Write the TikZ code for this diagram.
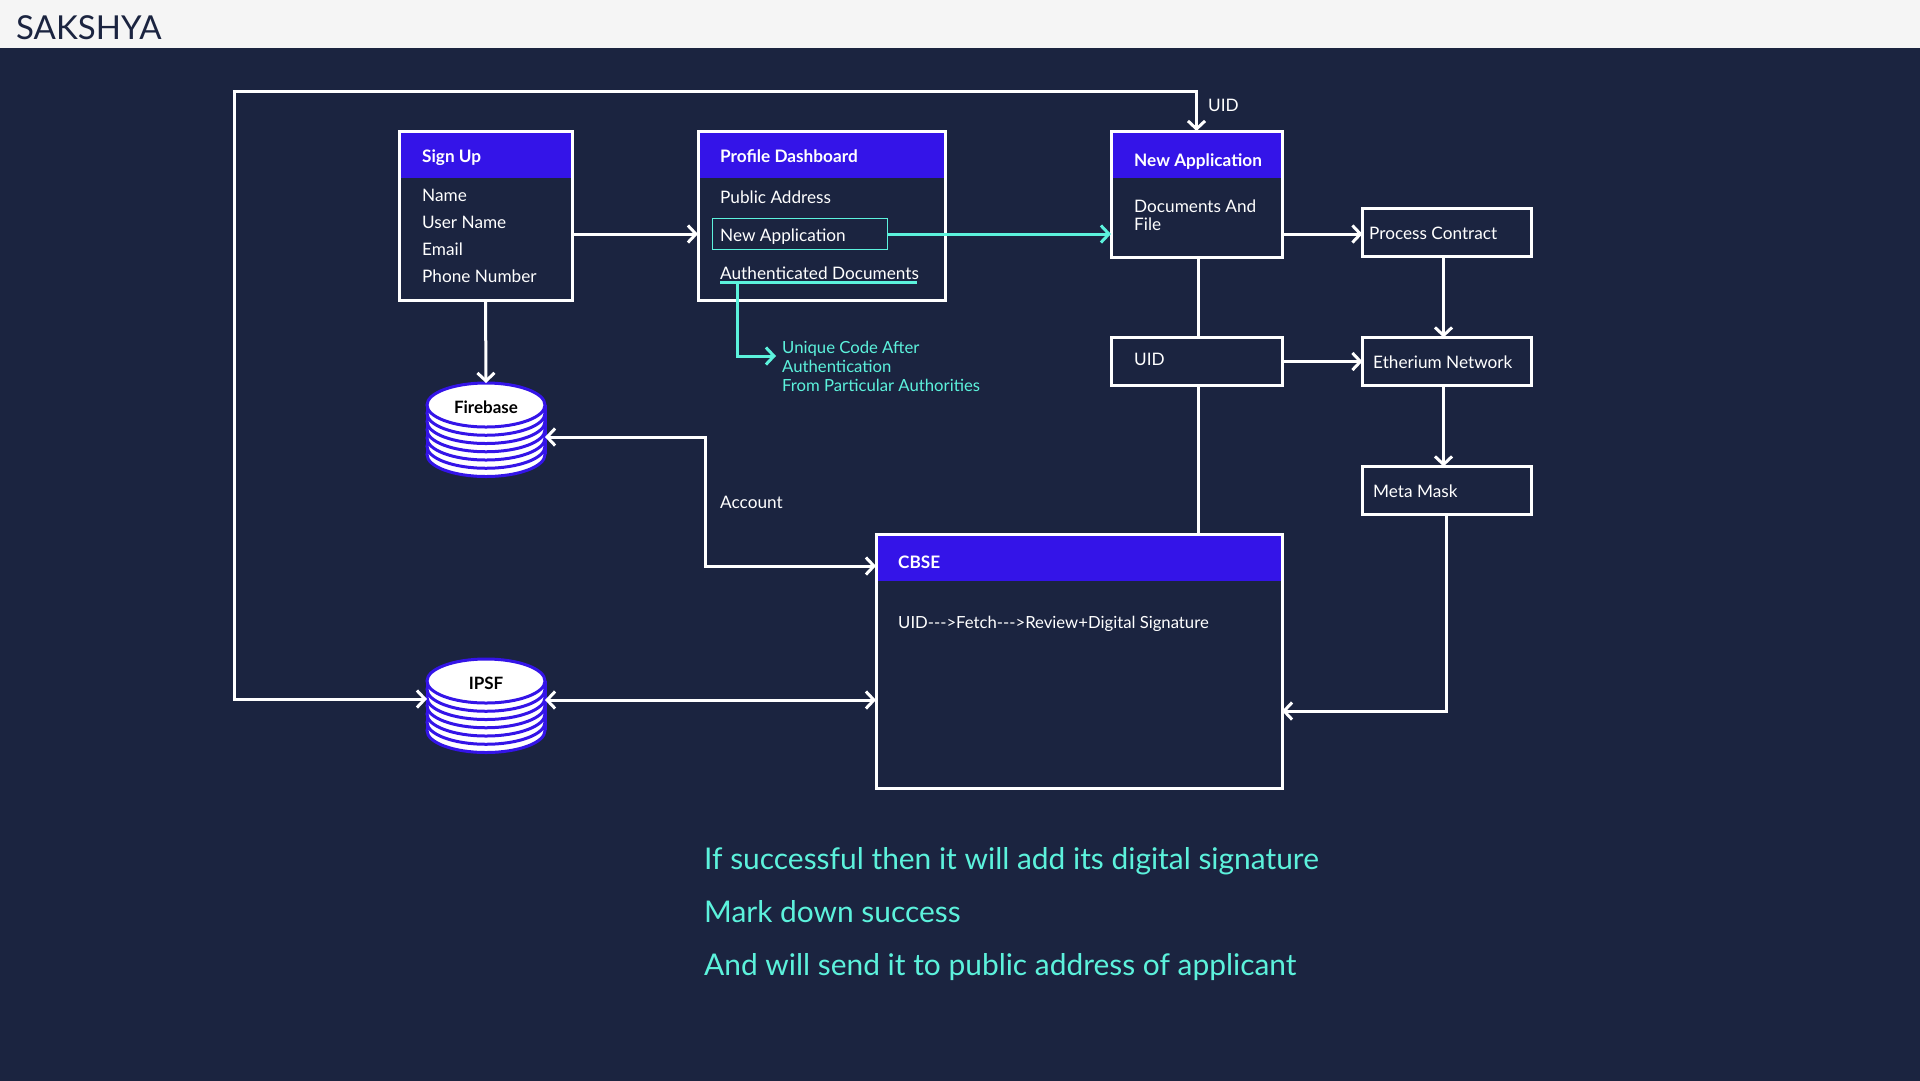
\documentclass[tikz,border=0pt]{standalone}
\usepackage{fontspec}
\setmainfont{Lato}
\usepackage{xcolor}
\usepackage{tikz}
\usetikzlibrary{arrows.meta,positioning,calc}
\definecolor{pagebg}{HTML}{1B2440}
\definecolor{barbg}{HTML}{F5F5F5}
\definecolor{headblue}{HTML}{3414E8}
\definecolor{tealline}{HTML}{5CF2DC}
\tikzset{
  boxnode/.style={draw=white, line width=3pt, outer sep=0pt, inner sep=0pt, fill=pagebg},
  headnode/.style={fill=headblue, outer sep=0pt, inner sep=0pt, minimum height=45pt},
  lbl/.style={text=white, font=\fontsize{17.2}{21}\selectfont, anchor=west, inner sep=0pt, align=left},
  onelbl/.style={lbl, text height=.72em, text depth=.22em, yshift=-4pt},
  headlbl/.style={onelbl, font=\fontsize{17.2}{21}\selectfont\bfseries},
  biglbl/.style={onelbl, text=tealline, font=\fontsize{29.9}{36}\selectfont, yshift=-4.6pt},
  tip/.style={arrows={-Straight Barb[length=8pt,width=17pt,line width=3pt]}},
  wire/.style={draw=white, line width=3pt, tip},
  bothwire/.style={wire, arrows={Straight Barb[length=8pt,width=17pt,line width=3pt]-Straight Barb[length=8pt,width=17pt,line width=3pt]}},
  tealwire/.style={wire, draw=tealline},
  plainwire/.style={draw=white, line width=3pt},
}
% stack of discs with a label on top
\newcommand{\discstack}[4]{
  \draw[headblue, line width=3pt] (#2-59,#3-25) -- (#2-59,#3+24) (#2+59,#3-25) -- (#2+59,#3+24);
  \foreach \k in {6,5,4,3,2,1,0} {
    \draw[headblue, line width=3pt, fill=white] (#2,#3-25+8.25*\k) ellipse [x radius=59pt, y radius=22pt];
  }
  \node[inner sep=0pt, minimum width=118pt, minimum height=94pt, outer sep=0pt] (#1) at (#2,#3) {};
  \node[font=\fontsize{17}{20}\selectfont\bfseries, text=black, inner sep=0pt, text height=.72em, text depth=.22em] (#1lbl) at (#2,#3-19) {#4};
}
\begin{document}
\begin{tikzpicture}[x=1pt, y=-1pt]
\useasboundingbox (0,0) rectangle (1920,1080);
\fill[pagebg] (-2,-2) rectangle (1922,1082);
\fill[barbg] (-2,-2) rectangle (1922,48);
\node[anchor=west, inner sep=0pt, text=pagebg, font=\fontsize{33}{38}\selectfont] (title) at (16,28) {SAKSHYA};

% sign up
\node[boxnode, minimum width=173pt, minimum height=169pt] (signup) at (485.5,215.5) {};
\node[headnode, minimum width=170pt, anchor=north] (signuphead) at (485.5,132.5) {};
\node[headlbl] (signuptxt) at (422,156) {Sign Up};
\node[onelbl] (name) at (422,195) {Name};
\node[onelbl] (uname) at (422,222) {User Name};
\node[onelbl] (email) at (422,249) {Email};
\node[onelbl] (phone) at (422,276) {Phone Number};

% profile dashboard
\node[boxnode, minimum width=247pt, minimum height=169pt] (profile) at (821.5,215.5) {};
\node[headnode, minimum width=244pt, anchor=north] (profilehead) at (821.5,132.5) {};
\node[headlbl] (profiletxt) at (720,156) {Profile Dashboard};
\node[onelbl] (pubaddr) at (720,197) {Public Address};
\node[draw=tealline, line width=1pt, outer sep=0pt, minimum width=175pt, minimum height=31pt] (profnew) at (800,234) {};
\node[onelbl] (profnewtxt) at (720,235) {New Application};
\node[onelbl] (authdocs) at (720,273) {Authenticated Documents};
\coordinate (authl) at (720,282);
\coordinate (authr) at (917,282);
\coordinate (authdrop) at (737,282);
\coordinate (authturn) at (737,356);
\node[lbl, text=tealline, font=\fontsize{16.7}{19}\selectfont] (unique) at (782,366) {Unique Code After\\Authentication\\From Particular Authorities};
\coordinate (uniquetip) at ($(unique.west |- authturn)+(-6,0)$);

% new application
\node[boxnode, minimum width=171pt, minimum height=126pt] (newapp) at (1196.5,194) {};
\node[headnode, minimum width=168pt, anchor=north] (newapphead) at (1196.5,132.5) {};
\node[headlbl] (newapptxt) at (1134,160) {New Application};
\node[lbl, font=\fontsize{17.2}{18.5}\selectfont] (docfile) at (1134,215) {Documents And\\File};

% right column
\node[boxnode, minimum width=169pt, minimum height=48pt] (process) at (1447,232.5) {};
\node[onelbl] (processtxt) at (1369,232.5) {Process Contract};
\node[boxnode, minimum width=171pt, minimum height=48pt] (uidbox) at (1197,361.5) {};
\node[onelbl] (uidtxt) at (1134,359) {UID};
\node[boxnode, minimum width=169pt, minimum height=48pt] (etherium) at (1447,361.5) {};
\node[onelbl] (etheriumtxt) at (1373,361.5) {Etherium Network};
\node[boxnode, minimum width=169pt, minimum height=48pt] (metamask) at (1447,490.5) {};
\node[onelbl] (metamasktxt) at (1373,490.5) {Meta Mask};

% cbse
\node[boxnode, minimum width=406pt, minimum height=254pt] (cbse) at (1079,661) {};
\node[headnode, minimum width=403pt, anchor=north] (cbsehead) at (1079,535.5) {};
\node[headlbl] (cbsetxt) at (898,562) {CBSE};
\node[onelbl, font=\fontsize{16.7}{21}\selectfont] (cbsebody) at (898,622) {UID-{}-{}->Fetch-{}-{}->Review+Digital Signature};

% databases
\discstack{firebase}{486}{430}{Firebase}
\discstack{ipsf}{486}{706}{IPSF}

% free labels
\node[onelbl] (uidtop) at (1208,105) {UID};
\node[onelbl] (account) at (720,502) {Account};
\node[biglbl] (msgone) at (704,858) {If successful then it will add its digital signature};
\node[biglbl] (msgtwo) at (704,911) {Mark down success};
\node[biglbl] (msgthree) at (704,964) {And will send it to public address of applicant};

% connectors
\coordinate (topleft) at (234,91);
\coordinate (botleft) at (234,699);
\coordinate (acctop) at (705,437);
\coordinate (actbot) at (705,566);
\coordinate (ipsfrow) at (700,700);
\coordinate (metarow) at (1446,711);
\draw[wire] (signup.east |- profnew.center) -- (profile.west |- profnew.center);
\draw[wire] (signup.south) -- (firebase.north);
\draw[tealwire] (profnew.east) -- (newapp.west |- profnew.center);
\draw[draw=tealline, line width=3pt] (authl) -- (authr);
\draw[tealwire] (authdrop) -- (authturn) -- (uniquetip);
\draw[bothwire] (newapp.north) -- (newapp.north |- topleft) -- (topleft) -- (botleft) -- (ipsf.west |- botleft);
\draw[wire] (newapp.east |- 0,234) -- (process.west |- 0,234);
\draw[plainwire] ($(newapp.south)+(1.5,0)$) -- ($(uidbox.north)+(1,0)$);
\draw[plainwire] ($(uidbox.south)+(1,0)$) -- ($(cbse.north -| uidbox.south)+(1,0)$);
\draw[wire] (uidbox.east) -- (etherium.west);
\draw[wire] ($(process.south)+(-3.5,0)$) -- ($(etherium.north)+(-3.5,0)$);
\draw[wire] ($(etherium.south)+(-3.5,0)$) -- ($(metamask.north)+(-3.5,0)$);
\draw[wire] (metamask.south -| metarow) -- (metarow) -- (cbse.east |- metarow);
\draw[bothwire] (firebase.east |- acctop) -- (acctop) -- (actbot) -- (cbse.west |- actbot);
\draw[bothwire] (ipsf.east |- ipsfrow) -- (cbse.west |- ipsfrow);
\end{tikzpicture}
\end{document}
